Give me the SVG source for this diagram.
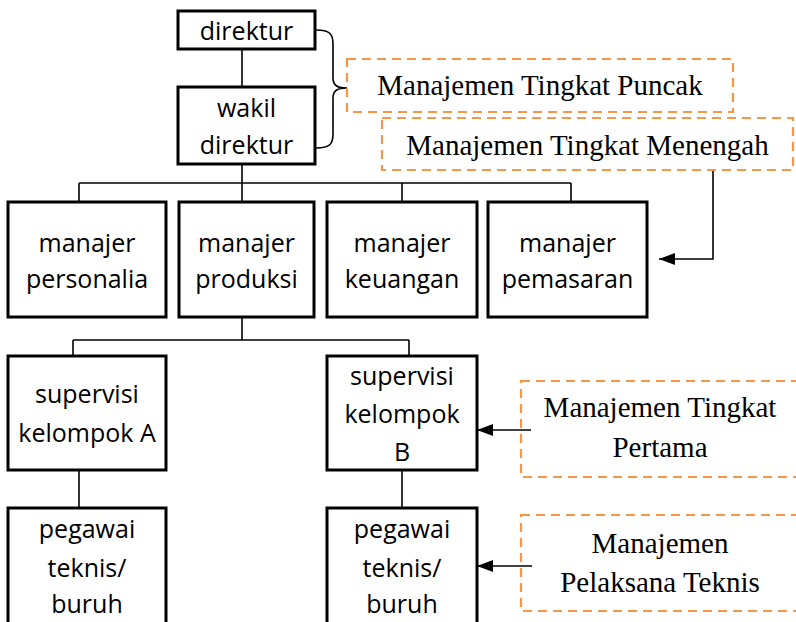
<svg xmlns="http://www.w3.org/2000/svg" width="796" height="622" viewBox="0 0 796 622">
  <style>
    .node rect { fill: #fff; stroke: #000; stroke-width: 3; }
    .node text { font-family: "Open Sans", "Noto Sans", sans-serif; font-size: 25px; fill: #000; text-anchor: middle; }
    .level rect { fill: none; stroke: #F79646; stroke-width: 2.2; stroke-dasharray: 9 6; }
    .level text { font-family: "Liberation Serif", "Times New Roman", serif; font-size: 29px; fill: #000; text-anchor: middle; }
    .conn path { fill: none; stroke: #000; stroke-width: 1.6; }
    .conn .arrow { marker-end: url(#head); }
  </style>
  <defs>
    <marker id="head" viewBox="0 0 16 12" refX="16" refY="6" markerWidth="16" markerHeight="12" markerUnits="userSpaceOnUse" orient="auto">
      <path d="M0,0 L16,6 L0,12 Z" fill="#000"/>
    </marker>
  </defs>
  <rect width="796" height="622" fill="#fff"/>

  <!-- connectors -->
  <g id="connectors" class="conn">
    <path d="M242,49 V87"/>
    <path d="M242,164 V202"/>
    <path d="M79,183 H571"/>
    <path d="M79,183 V202"/>
    <path d="M402,183 V202"/>
    <path d="M571,183 V202"/>
    <path d="M242,317 V340"/>
    <path d="M73,340 H409"/>
    <path d="M73,340 V356"/>
    <path d="M409,340 V356"/>
    <path d="M79,470 V508"/>
    <path d="M402,470 V508"/>
    <!-- brace grouping the top two levels -->
    <path d="M316,30 C330,30 333,34 333,44 V78 C333,86 338,88 347,88 C338,88 333,90 333,98 V134 C333,144 330,148 316,148"/>
    <path class="arrow" d="M713,170 V259 H659"/>
    <path class="arrow" d="M531,430 H477"/>
    <path class="arrow" d="M532,566 H477"/>
  </g>

  <!-- nodes -->
  <g id="direktur" class="node">
    <rect x="178" y="11" width="137" height="38"/>
    <text x="246.5" y="40">direktur</text>
  </g>
  <g id="wakil-direktur" class="node">
    <rect x="178" y="87" width="137" height="77"/>
    <text x="246.5" y="117">wakil</text>
    <text x="246.5" y="154">direktur</text>
  </g>
  <g id="manajer-personalia" class="node">
    <rect x="8" y="202" width="158" height="115"/>
    <text x="87" y="252">manajer</text>
    <text x="87" y="288">personalia</text>
  </g>
  <g id="manajer-produksi" class="node">
    <rect x="179" y="202" width="135" height="115"/>
    <text x="246.5" y="252">manajer</text>
    <text x="246.5" y="288">produksi</text>
  </g>
  <g id="manajer-keuangan" class="node">
    <rect x="327" y="202" width="150" height="115"/>
    <text x="402" y="252">manajer</text>
    <text x="402" y="288">keuangan</text>
  </g>
  <g id="manajer-pemasaran" class="node">
    <rect x="488" y="202" width="159" height="115"/>
    <text x="567.5" y="252">manajer</text>
    <text x="567.5" y="288">pemasaran</text>
  </g>
  <g id="supervisi-a" class="node">
    <rect x="8" y="356" width="158" height="114"/>
    <text x="87" y="403">supervisi</text>
    <text x="87" y="442">kelompok A</text>
  </g>
  <g id="supervisi-b" class="node">
    <rect x="327" y="356" width="150" height="114"/>
    <text x="402" y="385">supervisi</text>
    <text x="402" y="423">kelompok</text>
    <text x="402" y="461">B</text>
  </g>
  <g id="pegawai-a" class="node">
    <rect x="8" y="508" width="158" height="130"/>
    <text x="87" y="538">pegawai</text>
    <text x="87" y="577">teknis/</text>
    <text x="87" y="613">buruh</text>
  </g>
  <g id="pegawai-b" class="node">
    <rect x="327" y="508" width="150" height="130"/>
    <text x="402" y="538">pegawai</text>
    <text x="402" y="577">teknis/</text>
    <text x="402" y="613">buruh</text>
  </g>

  <!-- management level labels -->
  <g id="tingkat-puncak" class="level">
    <rect x="347" y="59" width="386" height="53"/>
    <text x="540" y="95">Manajemen Tingkat Puncak</text>
  </g>
  <g id="tingkat-menengah" class="level">
    <rect x="382" y="118" width="411" height="52"/>
    <text x="587.5" y="155">Manajemen Tingkat Menengah</text>
  </g>
  <g id="tingkat-pertama" class="level">
    <rect x="521" y="381" width="280" height="96"/>
    <text x="660" y="417">Manajemen Tingkat</text>
    <text x="660" y="457">Pertama</text>
  </g>
  <g id="pelaksana-teknis" class="level">
    <rect x="521" y="515" width="280" height="96"/>
    <text x="660" y="553">Manajemen</text>
    <text x="660" y="592">Pelaksana Teknis</text>
  </g>
</svg>
